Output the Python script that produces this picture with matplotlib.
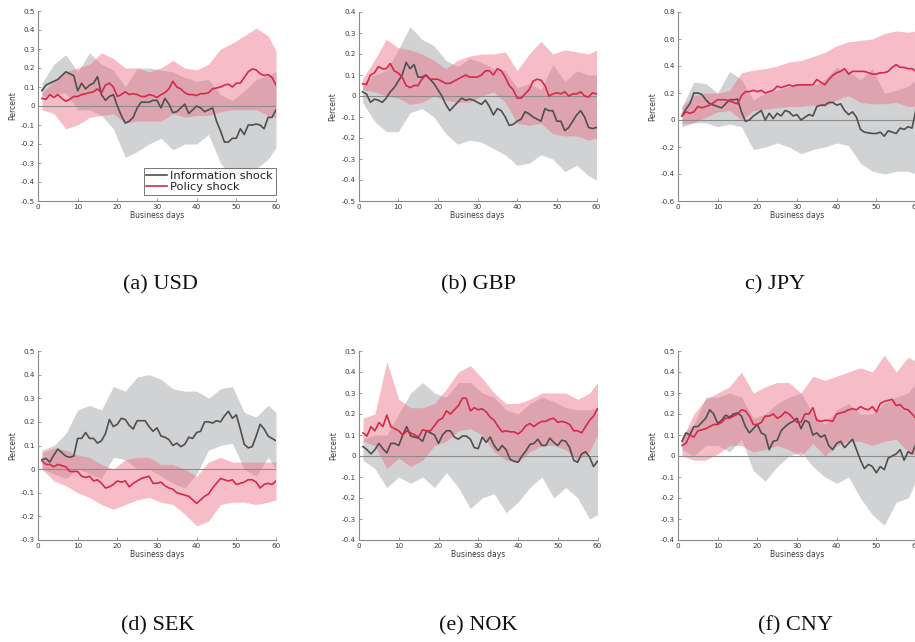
import numpy as np
import matplotlib
matplotlib.use("Agg")
import matplotlib.pyplot as plt

# ---------------------------------------------------------------------------
# Data: cumulative exchange-rate responses (percent) over 60 business days
# ---------------------------------------------------------------------------
days = list(range(1, 61))
band_days = [1, 4, 7, 10, 13, 16, 19, 22, 25, 28, 31, 34, 37, 40, 43, 46, 49, 52, 55, 58, 60]

# (a) USD
usd_info = [0.08, 0.11, 0.12, 0.13, 0.14, 0.16, 0.18, 0.17, 0.16, 0.08,
            0.12, 0.09, 0.11, 0.12, 0.155, 0.06, 0.03, 0.05, 0.06, 0.0,
            -0.05, -0.09, -0.08, -0.06, -0.01, 0.02, 0.02, 0.02, 0.03, 0.03,
            -0.01, 0.04, 0.01, -0.035, -0.03, -0.01, 0.01, -0.04, -0.02, 0.0,
            -0.01, -0.03, -0.02, -0.01, -0.08, -0.13, -0.19, -0.19, -0.17, -0.17,
            -0.12, -0.15, -0.10, -0.10, -0.095, -0.10, -0.12, -0.06, -0.06, -0.02]
usd_pol = [0.04, 0.035, 0.06, 0.045, 0.06, 0.04, 0.025, 0.035, 0.05, 0.05,
           0.06, 0.065, 0.07, 0.075, 0.09, 0.07, 0.11, 0.12, 0.10, 0.05,
           0.06, 0.075, 0.06, 0.065, 0.06, 0.05, 0.05, 0.06, 0.055, 0.045,
           0.06, 0.07, 0.09, 0.13, 0.10, 0.09, 0.07, 0.06, 0.06, 0.055,
           0.065, 0.065, 0.07, 0.09, 0.095, 0.10, 0.11, 0.115, 0.10, 0.12,
           0.12, 0.15, 0.18, 0.195, 0.19, 0.17, 0.16, 0.165, 0.15, 0.11]
usd_info_hi = [0.12, 0.22, 0.27, 0.18, 0.28, 0.22, 0.19, 0.10, 0.20, 0.20, 0.19,
               0.18, 0.15, 0.13, 0.14, 0.06, 0.03, 0.08, 0.14, 0.16, 0.18]
usd_info_lo = [0.05, 0.06, 0.07, -0.02, -0.02, -0.05, -0.12, -0.27, -0.24, -0.20, -0.17,
               -0.23, -0.20, -0.20, -0.15, -0.30, -0.38, -0.40, -0.33, -0.28, -0.22]
usd_pol_hi = [0.07, 0.13, 0.18, 0.20, 0.22, 0.28, 0.25, 0.20, 0.20, 0.18, 0.20,
              0.24, 0.20, 0.19, 0.22, 0.30, 0.33, 0.37, 0.41, 0.37, 0.29]
usd_pol_lo = [-0.02, -0.04, -0.12, -0.10, -0.06, -0.05, -0.04, -0.09, -0.08, -0.08, -0.08,
              -0.04, -0.06, -0.05, -0.05, -0.03, -0.02, -0.02, -0.02, -0.05, -0.06]

# (b) GBP
gbp_info = [0.02, 0.01, -0.03, -0.015, -0.02, -0.03, -0.01, 0.02, 0.04, 0.07,
            0.10, 0.16, 0.13, 0.15, 0.09, 0.09, 0.10, 0.08, 0.06, 0.03,
            0.0, -0.04, -0.07, -0.05, -0.03, -0.01, -0.02, -0.015, -0.02, -0.03,
            -0.04, -0.02, -0.05, -0.09, -0.06, -0.07, -0.10, -0.14, -0.135, -0.12,
            -0.11, -0.075, -0.085, -0.10, -0.11, -0.12, -0.06, -0.07, -0.07, -0.12,
            -0.12, -0.165, -0.15, -0.12, -0.09, -0.07, -0.10, -0.15, -0.155, -0.15]
gbp_pol = [0.058, 0.055, 0.10, 0.11, 0.14, 0.13, 0.13, 0.155, 0.12, 0.11,
           0.09, 0.05, 0.04, 0.05, 0.05, 0.08, 0.10, 0.08, 0.08, 0.08,
           0.07, 0.06, 0.06, 0.07, 0.08, 0.09, 0.10, 0.09, 0.09, 0.09,
           0.10, 0.12, 0.12, 0.10, 0.13, 0.12, 0.09, 0.05, 0.03, -0.01,
           -0.01, 0.01, 0.03, 0.07, 0.08, 0.075, 0.05, 0.0, 0.01, 0.015,
           0.01, 0.02, 0.0, 0.01, 0.01, 0.02, 0.0, -0.005, 0.015, 0.01]
gbp_info_hi = [0.06, 0.10, 0.12, 0.22, 0.33, 0.27, 0.24, 0.17, 0.14, 0.18, 0.16,
               0.13, 0.12, 0.04, 0.06, 0.03, 0.15, 0.07, 0.12, 0.10, 0.10]
gbp_info_lo = [-0.03, -0.12, -0.17, -0.17, -0.08, -0.06, -0.10, -0.18, -0.23, -0.21, -0.22,
               -0.25, -0.28, -0.33, -0.32, -0.28, -0.30, -0.36, -0.33, -0.38, -0.40]
gbp_pol_hi = [0.08, 0.17, 0.27, 0.23, 0.22, 0.20, 0.17, 0.13, 0.17, 0.19, 0.20,
              0.20, 0.21, 0.12, 0.20, 0.26, 0.20, 0.22, 0.21, 0.20, 0.22]
gbp_pol_lo = [0.03, 0.02, 0.0, -0.01, -0.04, -0.03, 0.0, -0.02, -0.03, -0.03, 0.0,
              0.02, -0.03, -0.13, -0.14, -0.13, -0.18, -0.19, -0.19, -0.21, -0.20]

# (c) JPY
jpy_info = [0.03, 0.08, 0.12, 0.20, 0.20, 0.19, 0.15, 0.12, 0.11, 0.10,
            0.09, 0.12, 0.15, 0.15, 0.155, 0.06, -0.01, 0.0, 0.03, 0.05,
            0.07, 0.0, 0.05, 0.01, 0.05, 0.03, 0.07, 0.06, 0.03, 0.04,
            0.0, 0.02, 0.04, 0.03, 0.10, 0.11, 0.11, 0.13, 0.13, 0.11,
            0.12, 0.07, 0.04, 0.06, 0.02, -0.07, -0.09, -0.095, -0.10, -0.10,
            -0.09, -0.12, -0.08, -0.09, -0.10, -0.06, -0.07, -0.05, -0.06, 0.08]
jpy_pol = [0.03, 0.06, 0.05, 0.06, 0.10, 0.09, 0.10, 0.11, 0.13, 0.15,
           0.15, 0.15, 0.14, 0.13, 0.12, 0.18, 0.21, 0.21, 0.22, 0.21,
           0.22, 0.20, 0.21, 0.22, 0.25, 0.24, 0.25, 0.26, 0.25, 0.26,
           0.26, 0.26, 0.26, 0.26, 0.30, 0.28, 0.26, 0.30, 0.33, 0.35,
           0.36, 0.38, 0.34, 0.36, 0.36, 0.36, 0.36, 0.35, 0.34, 0.34,
           0.35, 0.35, 0.36, 0.39, 0.41, 0.39, 0.39, 0.38, 0.38, 0.36]
jpy_info_hi = [0.10, 0.28, 0.27, 0.20, 0.36, 0.30, 0.15, 0.20, 0.22, 0.25, 0.27,
               0.25, 0.30, 0.39, 0.36, 0.30, 0.38, 0.20, 0.22, 0.25, 0.30]
jpy_info_lo = [-0.05, -0.02, -0.02, -0.05, -0.03, -0.05, -0.22, -0.20, -0.17, -0.20, -0.25,
               -0.22, -0.20, -0.17, -0.19, -0.32, -0.38, -0.40, -0.38, -0.38, -0.40]
jpy_pol_hi = [0.10, 0.18, 0.20, 0.20, 0.22, 0.35, 0.37, 0.38, 0.40, 0.43, 0.44,
              0.47, 0.50, 0.55, 0.58, 0.59, 0.60, 0.64, 0.66, 0.65, 0.66]
jpy_pol_lo = [-0.03, -0.02, 0.02, 0.06, 0.07, 0.0, 0.07, 0.08, 0.09, 0.10, 0.10,
              0.11, 0.10, 0.15, 0.18, 0.13, 0.12, 0.12, 0.13, 0.10, 0.10]

# (d) SEK
sek_info = [0.04, 0.045, 0.03, 0.06, 0.085, 0.07, 0.055, 0.05, 0.055, 0.13,
            0.13, 0.155, 0.13, 0.13, 0.11, 0.12, 0.15, 0.21, 0.18, 0.19,
            0.215, 0.21, 0.185, 0.17, 0.205, 0.205, 0.205, 0.18, 0.16, 0.175,
            0.14, 0.135, 0.125, 0.10, 0.11, 0.095, 0.105, 0.135, 0.13, 0.155,
            0.16, 0.20, 0.20, 0.195, 0.205, 0.20, 0.225, 0.245, 0.215, 0.23,
            0.17, 0.105, 0.09, 0.095, 0.14, 0.19, 0.17, 0.14, 0.13, 0.12]
sek_pol = [0.035, 0.02, 0.02, 0.01, 0.02, 0.015, 0.01, -0.01, -0.01, -0.01,
           -0.03, -0.035, -0.03, -0.05, -0.045, -0.06, -0.08, -0.075, -0.065, -0.05,
           -0.055, -0.05, -0.075, -0.06, -0.05, -0.04, -0.035, -0.03, -0.06, -0.06,
           -0.055, -0.07, -0.08, -0.085, -0.10, -0.105, -0.11, -0.115, -0.13, -0.145,
           -0.13, -0.115, -0.105, -0.08, -0.06, -0.04, -0.045, -0.05, -0.045, -0.065,
           -0.06, -0.055, -0.045, -0.045, -0.055, -0.08, -0.065, -0.06, -0.065, -0.05]
sek_info_hi = [0.08, 0.10, 0.15, 0.25, 0.27, 0.25, 0.35, 0.33, 0.39, 0.40, 0.38,
               0.34, 0.33, 0.33, 0.30, 0.34, 0.35, 0.24, 0.22, 0.27, 0.24]
sek_info_lo = [0.0, -0.02, -0.04, 0.0, -0.02, -0.04, 0.05, 0.04, 0.0, 0.0, -0.03,
               -0.06, -0.08, -0.02, 0.08, 0.10, 0.11, 0.0, -0.03, 0.05, 0.0]
sek_pol_hi = [0.07, 0.09, 0.08, 0.06, 0.05, 0.02, 0.0, 0.04, 0.05, 0.05, 0.02,
              0.02, 0.0, -0.03, 0.03, 0.05, 0.03, 0.03, 0.03, 0.03, 0.03]
sek_pol_lo = [0.0, -0.05, -0.07, -0.10, -0.12, -0.15, -0.17, -0.15, -0.13, -0.12, -0.14,
              -0.15, -0.19, -0.24, -0.22, -0.15, -0.14, -0.14, -0.15, -0.14, -0.13]

# (e) NOK
nok_info = [0.045, 0.03, 0.01, 0.03, 0.06, 0.035, 0.015, 0.06, 0.06, 0.05,
            0.10, 0.14, 0.095, 0.09, 0.085, 0.07, 0.12, 0.11, 0.10, 0.06,
            0.10, 0.12, 0.12, 0.09, 0.08, 0.095, 0.095, 0.08, 0.04, 0.035,
            0.09, 0.065, 0.09, 0.05, 0.025, 0.05, 0.03, -0.015, -0.025, -0.03,
            0.0, 0.025, 0.055, 0.06, 0.08, 0.05, 0.05, 0.085, 0.065, 0.05,
            0.075, 0.07, 0.04, -0.02, -0.03, 0.01, 0.02, -0.005, -0.05, -0.025]
nok_pol = [0.11, 0.095, 0.14, 0.12, 0.16, 0.14, 0.195, 0.14, 0.13, 0.12,
           0.10, 0.12, 0.11, 0.10, 0.09, 0.125, 0.12, 0.12, 0.145, 0.17,
           0.18, 0.215, 0.20, 0.22, 0.24, 0.275, 0.275, 0.215, 0.23, 0.22,
           0.225, 0.21, 0.185, 0.17, 0.14, 0.115, 0.12, 0.115, 0.115, 0.105,
           0.12, 0.145, 0.155, 0.14, 0.155, 0.165, 0.165, 0.175, 0.18, 0.16,
           0.165, 0.16, 0.15, 0.12, 0.12, 0.11, 0.14, 0.17, 0.19, 0.225]
nok_info_hi = [0.08, 0.10, 0.10, 0.20, 0.30, 0.35, 0.30, 0.28, 0.35, 0.35, 0.30,
               0.28, 0.22, 0.20, 0.25, 0.28, 0.26, 0.23, 0.22, 0.22, 0.23]
nok_info_lo = [-0.02, -0.06, -0.15, -0.10, -0.13, -0.10, -0.15, -0.08, -0.15, -0.25, -0.20,
               -0.18, -0.27, -0.22, -0.15, -0.10, -0.20, -0.15, -0.20, -0.30, -0.28]
nok_pol_hi = [0.18, 0.20, 0.45, 0.27, 0.23, 0.23, 0.25, 0.32, 0.40, 0.43, 0.37,
              0.30, 0.25, 0.25, 0.27, 0.30, 0.30, 0.30, 0.27, 0.30, 0.35]
nok_pol_lo = [0.07, 0.05, -0.06, -0.01, -0.05, -0.02, 0.05, 0.07, 0.12, 0.13, 0.10,
              0.02, -0.02, -0.03, 0.02, 0.05, 0.05, 0.03, -0.02, 0.02, 0.10]

# (f) CNY
cny_info = [0.07, 0.11, 0.10, 0.14, 0.14, 0.16, 0.18, 0.22, 0.20, 0.155,
            0.17, 0.195, 0.185, 0.20, 0.205, 0.19, 0.14, 0.11, 0.13, 0.15,
            0.11, 0.10, 0.03, 0.07, 0.075, 0.12, 0.14, 0.155, 0.165, 0.18,
            0.13, 0.17, 0.16, 0.10, 0.11, 0.09, 0.10, 0.05, 0.03, 0.06,
            0.07, 0.04, 0.06, 0.08, 0.03, -0.02, -0.06, -0.04, -0.05, -0.08,
            -0.05, -0.065, -0.01, 0.0, 0.01, 0.03, -0.02, 0.02, 0.01, 0.06]
cny_pol = [0.05, 0.06, 0.10, 0.09, 0.12, 0.125, 0.13, 0.14, 0.15, 0.15,
           0.16, 0.18, 0.18, 0.19, 0.20, 0.22, 0.215, 0.19, 0.15, 0.15,
           0.16, 0.19, 0.19, 0.20, 0.18, 0.19, 0.21, 0.20, 0.18, 0.16,
           0.16, 0.20, 0.20, 0.23, 0.17, 0.165, 0.17, 0.17, 0.165, 0.20,
           0.205, 0.21, 0.22, 0.225, 0.22, 0.235, 0.225, 0.22, 0.235, 0.21,
           0.25, 0.26, 0.265, 0.27, 0.24, 0.245, 0.225, 0.22, 0.20, 0.18]
cny_info_hi = [0.10, 0.15, 0.28, 0.28, 0.30, 0.28, 0.18, 0.20, 0.25, 0.28, 0.30,
               0.20, 0.15, 0.22, 0.25, 0.20, 0.20, 0.25, 0.28, 0.30, 0.35]
cny_info_lo = [0.03, 0.0, 0.05, 0.05, 0.02, 0.08, -0.07, -0.12, -0.05, 0.0, 0.02,
               -0.05, -0.10, -0.13, -0.10, -0.20, -0.28, -0.33, -0.22, -0.20, -0.12]
cny_pol_hi = [0.08, 0.20, 0.27, 0.30, 0.33, 0.40, 0.30, 0.33, 0.35, 0.35, 0.30,
              0.38, 0.36, 0.38, 0.40, 0.42, 0.40, 0.48, 0.40, 0.47, 0.45]
cny_pol_lo = [0.0, -0.02, -0.02, 0.01, 0.05, 0.05, 0.02, 0.03, 0.05, 0.03, 0.0,
              0.06, 0.0, 0.05, 0.07, 0.07, 0.05, 0.07, 0.08, 0.02, 0.0]

captions = ["(a) USD", "(b) GBP", "c) JPY", "(d) SEK", "(e) NOK", "(f) CNY"]
y_ticks = [
    [-0.5, -0.4, -0.3, -0.2, -0.1, 0, 0.1, 0.2, 0.3, 0.4, 0.5],
    [-0.5, -0.4, -0.3, -0.2, -0.1, 0, 0.1, 0.2, 0.3, 0.4],
    [-0.6, -0.4, -0.2, 0, 0.2, 0.4, 0.6, 0.8],
    [-0.3, -0.2, -0.1, 0, 0.1, 0.2, 0.3, 0.4, 0.5],
    [-0.4, -0.3, -0.2, -0.1, 0, 0.1, 0.2, 0.3, 0.4, 0.5],
    [-0.4, -0.3, -0.2, -0.1, 0, 0.1, 0.2, 0.3, 0.4, 0.5],
]
x_ticks = [0, 10, 20, 30, 40, 50, 60]

panels = [
    (usd_info, usd_pol, usd_info_lo, usd_info_hi, usd_pol_lo, usd_pol_hi),
    (gbp_info, gbp_pol, gbp_info_lo, gbp_info_hi, gbp_pol_lo, gbp_pol_hi),
    (jpy_info, jpy_pol, jpy_info_lo, jpy_info_hi, jpy_pol_lo, jpy_pol_hi),
    (sek_info, sek_pol, sek_info_lo, sek_info_hi, sek_pol_lo, sek_pol_hi),
    (nok_info, nok_pol, nok_info_lo, nok_info_hi, nok_pol_lo, nok_pol_hi),
    (cny_info, cny_pol, cny_info_lo, cny_info_hi, cny_pol_lo, cny_pol_hi),
]

# ---------------------------------------------------------------------------
# Figure layout (pixel geometry on a 915 x 642 canvas)
# ---------------------------------------------------------------------------
W, H = 915, 642
fig = plt.figure(figsize=(W / 100, H / 100), dpi=100)
fig.patch.set_facecolor("white")

# left, right, top, bottom in pixels
boxes = [
    (38, 276, 11, 201), (358.5, 596.5, 12, 201), (678, 916, 12, 201),
    (38, 276, 351, 540), (359, 597.5, 351, 540), (678, 916, 351, 540),
]
caption_xy = [(160, 285), (478, 285), (775, 285), (158, 626), (478, 626), (795, 626)]

GRAY_LINE = "#4f4f4f"
RED_LINE = "#d8284a"
GRAY_BAND = "#b3b5b8"
PINK_BAND = "#ec6e84"
AX_COL = "#8a8a8a"
TXT_COL = "#3c3c3c"


def fmt(v):
    s = f"{v:.1f}"
    if s in ("0.0", "-0.0"):
        return "0"
    return s


for i, (box, data) in enumerate(zip(boxes, panels)):
    l, r, t, b = box
    ax = fig.add_axes([l / W, 1 - b / H, (r - l) / W, (b - t) / H])
    info, pol, ilo, ihi, plo, phi = data

    ax.fill_between(band_days, ilo, ihi, color=GRAY_BAND, alpha=0.6, lw=0)
    ax.fill_between(band_days, plo, phi, color=PINK_BAND, alpha=0.45, lw=0)
    ax.axhline(0, color="#8c8c8c", lw=0.8, zorder=2)
    ax.plot(days, info, color=GRAY_LINE, lw=1.2, zorder=3, label="Information shock")
    ax.plot(days, pol, color=RED_LINE, lw=1.2, zorder=3, label="Policy shock")

    yt = y_ticks[i]
    ax.set_xlim(0, 60)
    ax.set_ylim(yt[0], yt[-1])
    ax.set_yticks(yt)
    ax.set_yticklabels([fmt(v) for v in yt])
    ax.set_xticks(x_ticks)
    ax.set_xticklabels([str(v) for v in x_ticks])

    for side in ("top", "right"):
        ax.spines[side].set_visible(False)
    for side in ("left", "bottom"):
        ax.spines[side].set_color(AX_COL)
        ax.spines[side].set_linewidth(0.8)
    ax.tick_params(direction="in", length=2.5, width=0.6, color=AX_COL,
                   labelsize=5.2, labelcolor=TXT_COL, pad=2)
    ax.set_ylabel("Percent", fontsize=5.5, color=TXT_COL, labelpad=3)
    ax.set_xlabel("Business days", fontsize=5.5, color=TXT_COL, labelpad=1)

    if i == 0:
        leg = ax.legend(loc="lower right", bbox_to_anchor=(1.0, 0.03),
                        fontsize=8.2, frameon=True, fancybox=False,
                        handlelength=1.8, handletextpad=0.3, borderpad=0.25,
                        labelspacing=0.15, borderaxespad=0.0)
        leg.get_frame().set_edgecolor("#555555")
        leg.get_frame().set_linewidth(0.7)
        for txt in leg.get_texts():
            txt.set_color("#222222")

    cx, cy = caption_xy[i]
    fig.text(cx / W, 1 - cy / H, captions[i], ha="center", va="center",
             fontsize=16, family="Liberation Serif", color="#111111")

fig.savefig("out.png", dpi=100, facecolor="white")
